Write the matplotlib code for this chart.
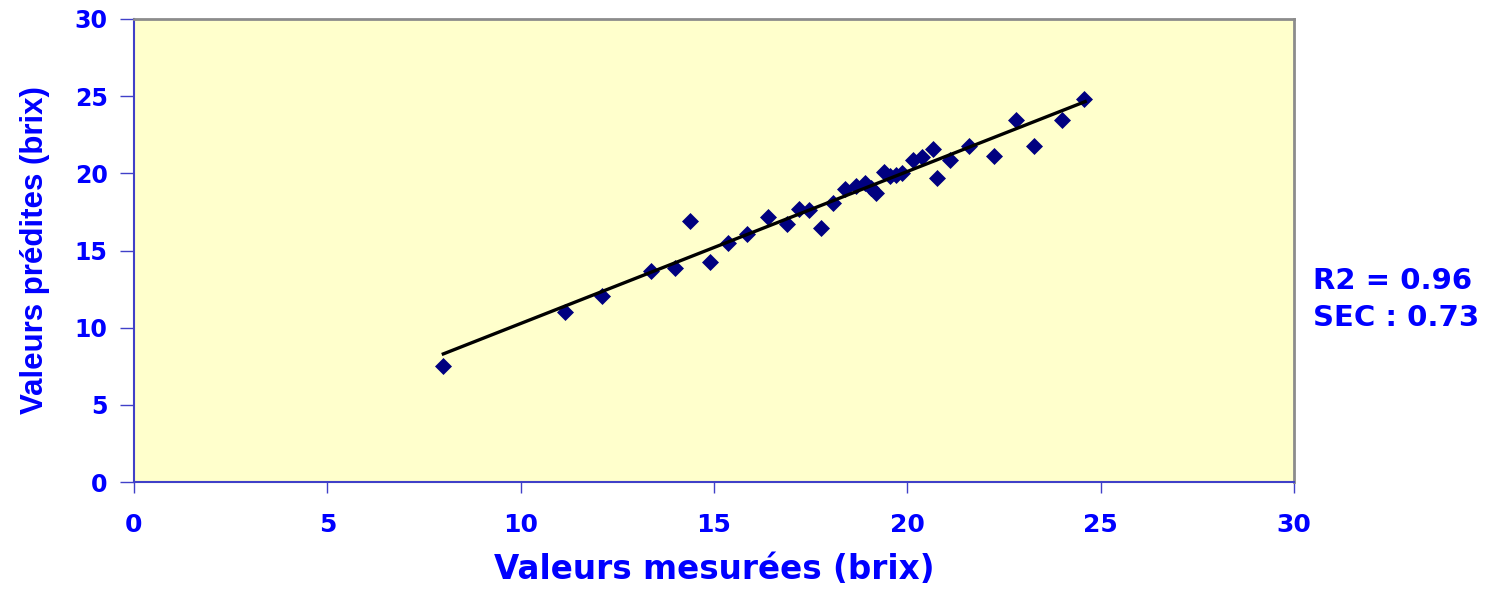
import matplotlib.pyplot as plt

mesure = [8.0, 11.15, 12.1, 13.37, 13.99, 14.38, 14.9, 15.36, 15.85, 16.39,
          16.89, 17.2, 17.46, 17.77, 18.08, 18.39, 18.67, 18.9, 19.05, 19.2,
          19.4, 19.55, 19.7, 19.85, 20.14, 20.38, 20.66, 20.77, 21.1, 21.6,
          22.25, 22.8, 23.27, 24.0, 24.57]
predit = [7.5, 11.0, 12.05, 13.67, 13.87, 16.9, 14.26, 15.5, 16.07, 17.2,
          16.7, 17.7, 17.6, 16.46, 18.05, 19.0, 19.15, 19.38, 19.05, 18.75,
          20.1, 19.85, 19.9, 20.0, 20.85, 21.06, 21.55, 19.7, 20.85, 21.78,
          21.15, 23.46, 21.78, 23.46, 24.82]

# trend line ends
fit_x = [8.0, 24.6]
fit_y = [8.3, 24.65]

ticks = [0, 5, 10, 15, 20, 25, 30]

plt.rcParams['font.family'] = ['DejaVu Sans']
blue = '#0000FF'
spine_blue = '#4040C8'

fig = plt.figure(figsize=(14.99, 5.92), dpi=100)
ax = fig.add_axes([134 / 1499, 1 - 482 / 592, 1160 / 1499, 463 / 592])
ax.set_facecolor('#FFFFCC')

ax.scatter(mesure, predit, marker='D', s=75, color='#000080', zorder=3, linewidths=0)
ax.plot(fit_x, fit_y, color='black', lw=2.4, zorder=4)

ax.set_xlim(0, 30)
ax.set_ylim(0, 30)
ax.set_xticks(ticks)
ax.set_yticks(ticks)

for s in ['left', 'bottom']:
    ax.spines[s].set_color(spine_blue)
    ax.spines[s].set_linewidth(1.5)
for s in ['top', 'right']:
    ax.spines[s].set_color('#8C8C8C')
    ax.spines[s].set_linewidth(2)

ax.tick_params(axis='x', colors=spine_blue, labelcolor=blue, length=8, width=1,
               labelsize=18, pad=14)
ax.tick_params(axis='y', colors=spine_blue, labelcolor=blue, length=10, width=1,
               labelsize=17, pad=9)
for lab in ax.get_xticklabels() + ax.get_yticklabels():
    lab.set_fontweight('bold')

ax.set_xlabel('Valeurs mesurées (brix)', color=blue, fontsize=23.5, fontweight='bold', labelpad=12)
ax.set_ylabel('Valeurs prédites (brix)', color=blue, fontsize=22.5, fontweight='bold',
              family='Liberation Sans', labelpad=18)

fig.text(1313 / 1499, 1 - 281 / 592, 'R2 = 0.96', color=blue, fontsize=21,
         fontweight='bold', va='center', ha='left')
fig.text(1313 / 1499, 1 - 318 / 592, 'SEC : 0.73', color=blue, fontsize=21,
         fontweight='bold', va='center', ha='left')

fig.savefig('out.png', dpi=100, facecolor='white')
